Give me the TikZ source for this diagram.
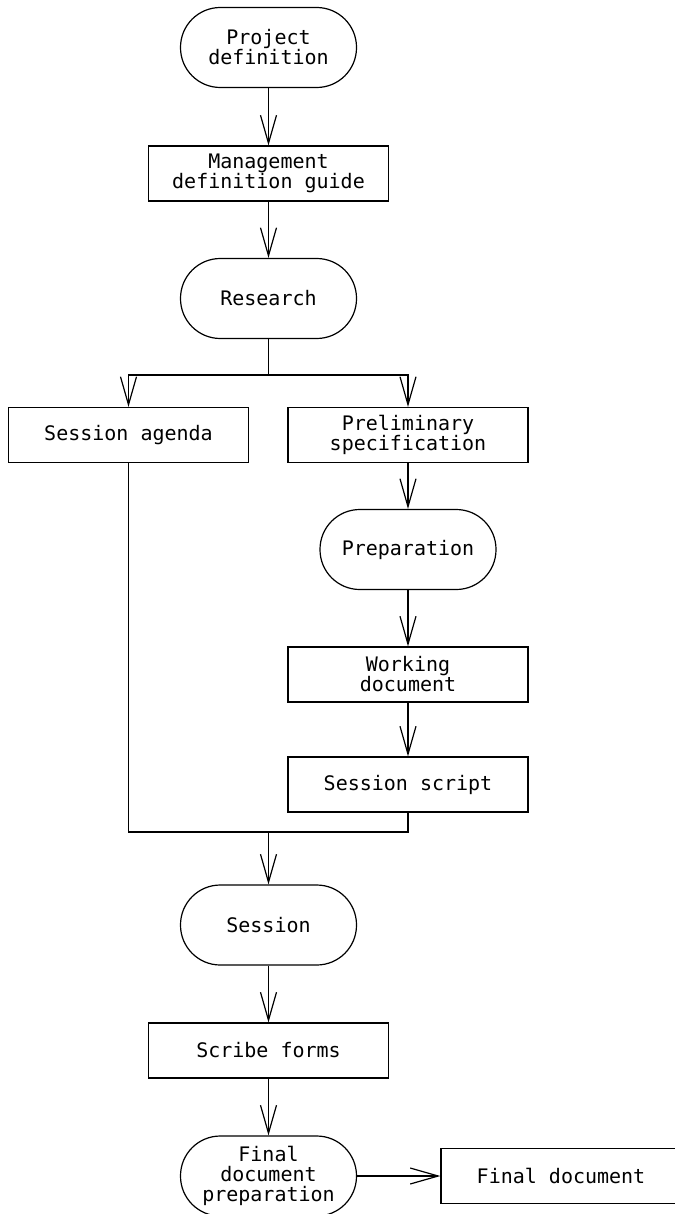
\documentclass[tikz,border=0pt]{standalone}
\usepackage{fontspec}
\setmonofont{DejaVu Sans Mono}
\usepackage{tikz}
\usetikzlibrary{arrows.meta}

\begin{document}
\begin{tikzpicture}[x=0.5pt, y=-0.5pt, line width=0.6pt,
  docBox/.style={draw, rectangle, minimum width=120pt, minimum height=27.5pt, align=center, inner sep=2pt, font=\ttfamily\fontsize{10}{10}\selectfont},
  actNode/.style={draw, rectangle, rounded corners=19.9pt, minimum width=88pt, minimum height=40pt, align=center, inner sep=2pt, font=\ttfamily\fontsize{10}{10}\selectfont},
  flowArrow/.style={-{Straight Barb[length=14pt,width=8pt]}}]
  \useasboundingbox (0,0) rectangle (674,1214);

  \node[actNode] (proj) at (268.5,47.5) {Project\\definition};
  \node[docBox] (mgmt) at (268.5,173.5) {Management\\definition guide};
  \node[actNode] (research) at (268.5,298.5) {Research};
  \node[docBox] (agenda) at (128.5,435) {Session agenda};
  \node[docBox] (prelim) at (408,435) {Preliminary\\specification};
  \node[actNode] (prep) at (408,549.5) {Preparation};
  \node[docBox] (working) at (408,674.5) {Working\\document};
  \node[docBox] (script) at (408,784.5) {Session script};
  \node[actNode] (session) at (268.5,925) {Session};
  \node[docBox] (scribe) at (268.5,1050.5) {Scribe forms};
  \node[actNode] (finalprep) at (268.5,1176) {Final\\document\\preparation};
  \node[docBox] (final) at (561,1176) {Final document};

  \coordinate (split) at (268.5,375);
  \coordinate (merge) at (268.5,832);

  \draw[flowArrow] (proj) -- (mgmt);
  \draw[flowArrow] (mgmt) -- (research);
  \draw (research) -- (split);
  \draw[flowArrow] (split) -| (agenda);
  \draw[flowArrow] (split) -| (prelim);
  \draw[flowArrow] (prelim) -- (prep);
  \draw[flowArrow] (prep) -- (working);
  \draw[flowArrow] (working) -- (script);
  \draw (agenda) |- (merge);
  \draw (script) |- (merge);
  \draw[flowArrow] (merge) -- (session);
  \draw[flowArrow] (session) -- (scribe);
  \draw[flowArrow] (scribe) -- (finalprep);
  \draw[flowArrow] (finalprep) -- (final);
\end{tikzpicture}
\end{document}
